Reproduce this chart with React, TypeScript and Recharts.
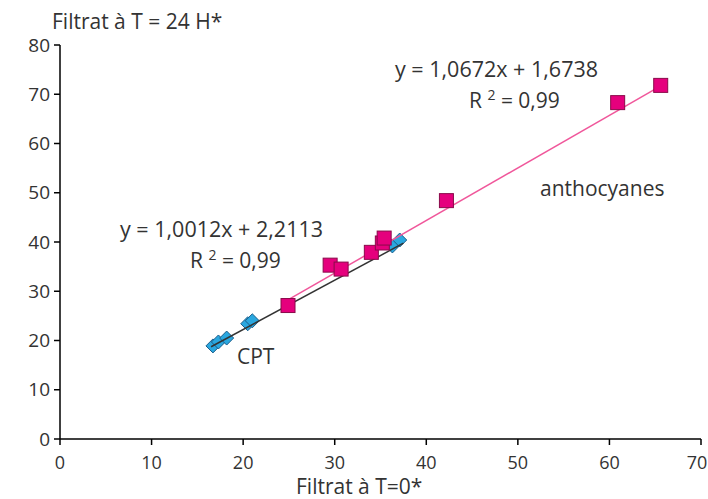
import React from 'react'
import { ScatterChart, Scatter, XAxis, YAxis } from 'recharts'

// points
const cptX = [16.7, 17.3, 18.2, 20.5, 21.0, 36.3, 37.1]
const cptY = [18.9, 19.7, 20.5, 23.4, 24.0, 39.2, 40.4]
const anthoX = [24.9, 29.5, 30.7, 34.0, 35.2, 35.4, 42.2, 60.9, 65.6]
const anthoY = [27.1, 35.3, 34.5, 37.9, 39.8, 40.8, 48.4, 68.3, 71.8]

// trend lines (printed equations) and their extent
const cptFit = { a: 1.0012, b: 2.2113, from: 16.5, to: 37.5 }
const anthoFit = { a: 1.0672, b: 1.6738, from: 24.7, to: 65.8 }

const xTicks = [0, 10, 20, 30, 40, 50, 60, 70]
const yTicks = [0, 10, 20, 30, 40, 50, 60, 70, 80]

const cpt = cptX.map((x, i) => ({ x, y: cptY[i] }))
const antho = anthoX.map((x, i) => ({ x, y: anthoY[i] }))
const fitLine = (f: typeof cptFit) => [
  { x: f.from, y: f.a * f.from + f.b },
  { x: f.to, y: f.a * f.to + f.b },
]

const font = '"Open Sans", sans-serif'
const textColor = '#333'
const W = 708

const Square = (props: any) => {
  const { cx, cy } = props
  const s = 14
  return <rect x={cx - s / 2} y={cy - s / 2} width={s} height={s} fill="#E5007D" stroke="#8a0a4a" strokeWidth={1} />
}

const Diamond = (props: any) => {
  const { cx, cy } = props
  const r = 7
  return (
    <polygon
      points={`${cx},${cy - r} ${cx + r},${cy} ${cx},${cy + r} ${cx - r},${cy}`}
      fill="#2AA7DF"
      stroke="#1b5d8a"
      strokeWidth={1}
    />
  )
}

const NoDot = () => <g />

// x tick label, kept inside the right edge
const XTick = (props: any) => {
  const { x, y, payload } = props
  const half = 10
  const cx = Math.min(x, W - 1 - half)
  return (
    <text x={cx} y={y} dy="0.71em" textAnchor="middle" fontSize={18} fill={textColor} fontFamily={font}>
      {payload.value}
    </text>
  )
}

// positioned by baseline
const Note = ({ x, base, children, size = 21 }: any) => (
  <div
    style={{
      position: 'absolute',
      left: x,
      top: base - size * 0.888,
      fontFamily: font,
      fontSize: size,
      lineHeight: 1,
      color: textColor,
      whiteSpace: 'nowrap',
    }}
  >
    {children}
  </div>
)

const Sup = ({ children }: any) => (
  <span style={{ fontSize: 14, position: 'relative', top: -8 }}>{children}</span>
)

export default function App() {
  return (
    <div style={{ position: 'absolute', left: 0, top: 0, width: W, height: 499, background: '#fff' }}>
      <ScatterChart width={W} height={499} margin={{ top: 45, right: 7, bottom: 30, left: 16 }}>
        <XAxis
          type="number"
          dataKey="x"
          domain={[0, 70]}
          ticks={xTicks}
          interval={0}
          tick={<XTick />}
          tickSize={6}
          tickMargin={11}
          stroke="#000"
          strokeWidth={1.5}
          height={30}
        />
        <YAxis
          type="number"
          dataKey="y"
          domain={[0, 80]}
          ticks={yTicks}
          interval={0}
          tick={{ fontSize: 19, fill: textColor, fontFamily: font }}
          tickSize={6}
          tickMargin={4}
          stroke="#000"
          strokeWidth={1.5}
          width={44}
        />
        <Scatter data={cpt} shape={Diamond} isAnimationActive={false} />
        <Scatter data={fitLine(cptFit)} line={{ stroke: '#333', strokeWidth: 1.5 }} shape={NoDot} isAnimationActive={false} />
        <Scatter data={fitLine(anthoFit)} line={{ stroke: '#F0579B', strokeWidth: 1.5 }} shape={NoDot} isAnimationActive={false} />
        <Scatter data={antho} shape={Square} isAnimationActive={false} />
      </ScatterChart>

      <Note x={52} base={30}>Filtrat à T = 24 H*</Note>
      <Note x={296} base={495}>Filtrat à T=0*</Note>
      <Note x={395} base={77} size={21.5}>y = 1,0672x + 1,6738</Note>
      <Note x={469} base={109}>R <Sup>2</Sup> = 0,99</Note>
      <Note x={540} base={197}>anthocyanes</Note>
      <Note x={120} base={237} size={21.5}>y = 1,0012x + 2,2113</Note>
      <Note x={190} base={269}>R <Sup>2</Sup> = 0,99</Note>
      <Note x={237} base={365}>CPT</Note>
    </div>
  )
}
